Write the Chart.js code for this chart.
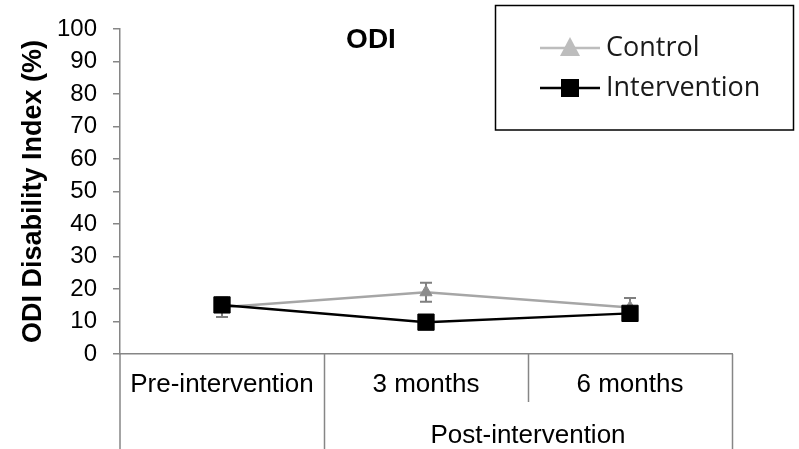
<!DOCTYPE html>
<html>
<head>
<meta charset="utf-8">
<title>ODI</title>
<script src="https://cdn.jsdelivr.net/npm/chart.js@4/dist/chart.umd.min.js"></script>
<style>
  html, body { margin: 0; padding: 0; background: #ffffff; }
  #wrap { width: 799px; height: 449px; }
</style>
</head>
<body>
<div id="wrap"><canvas id="odi" width="799" height="449"></canvas></div>
<script>
// Time points and the group label spanning the follow-up visits
const categories = ['Pre-intervention', '3 months', '6 months'];
const groupLabel = 'Post-intervention';
const groupStart = 1;   // first category under the group label
const groupEnd = 2;     // last category under the group label

// Mean ODI (%) and standard error per time point
const controlValues = [14.4, 19.0, 14.3];
const controlErrors = [3.0, 2.9, 2.9];
const interventionValues = [15.1, 9.8, 12.5];
const interventionErrors = [2.0, 1.5, 1.5];

// Y axis ticks
const yTicks = [0, 10, 20, 30, 40, 50, 60, 70, 80, 90, 100];

const AXIS_GREY = '#868686';
const FONT = '"Liberation Sans", Arial, sans-serif';

// Error bars, drawn under the markers
const errorBars = {
  id: 'errorBars',
  beforeDatasetsDraw(chart) {
    const ctx = chart.ctx;
    const y = chart.scales.y;
    chart.data.datasets.forEach((ds, i) => {
      const meta = chart.getDatasetMeta(i);
      if (meta.hidden) return;
      ctx.save();
      ctx.strokeStyle = ds.errorColor;
      ctx.lineWidth = 2;
      meta.data.forEach((pt, j) => {
        const v = ds.data[j], e = ds.errors[j];
        const yTop = y.getPixelForValue(v + e);
        const yBot = y.getPixelForValue(v - e);
        const x = pt.x;
        ctx.beginPath();
        ctx.moveTo(x, yTop); ctx.lineTo(x, yBot);
        ctx.moveTo(x - 6, yTop); ctx.lineTo(x + 6, yTop);
        ctx.moveTo(x - 6, yBot); ctx.lineTo(x + 6, yBot);
        ctx.stroke();
      });
      ctx.restore();
    });
  }
};

// Category dividers below the axis, group label, title and legend box
const decorations = {
  id: 'decorations',
  afterDraw(chart) {
    const ctx = chart.ctx;
    const x = chart.scales.x;
    const area = chart.chartArea;
    const H = chart.height;
    const n = categories.length;
    const edge = (k) => {
      if (k <= 0) return x.left;
      if (k >= n) return x.right;
      return (x.getPixelForValue(k - 1) + x.getPixelForValue(k)) / 2;
    };

    ctx.save();
    ctx.strokeStyle = AXIS_GREY;
    ctx.lineWidth = 1.5;
    // left axis runs to the bottom of the canvas
    ctx.beginPath();
    ctx.moveTo(x.left, area.bottom); ctx.lineTo(x.left, H);
    for (let k = 1; k <= n; k++) {
      const px = Math.round(edge(k)) + 0.5;
      const inside = k > groupStart && k <= groupEnd;
      ctx.moveTo(px, area.bottom);
      ctx.lineTo(px, inside ? area.bottom + 48 : H);
    }
    ctx.stroke();

    // group label
    ctx.fillStyle = '#000000';
    ctx.font = '26px ' + FONT;
    ctx.textAlign = 'center';
    ctx.textBaseline = 'middle';
    ctx.fillText(groupLabel, (edge(groupStart) + edge(groupEnd + 1)) / 2, 436);

    // chart title
    ctx.font = 'bold 28px ' + FONT;
    ctx.fillText('ODI', 371, 40);

    // legend
    ctx.strokeStyle = '#000000';
    ctx.lineWidth = 1.5;
    ctx.strokeRect(495.5, 5.5, 298, 124.5);

    const rows = [
      { ds: chart.data.datasets[0], y: 48 },
      { ds: chart.data.datasets[1], y: 88 }
    ];
    rows.forEach(r => {
      ctx.strokeStyle = r.ds.legendColor;
      ctx.fillStyle = r.ds.legendColor;
      ctx.lineWidth = 2.5;
      ctx.beginPath();
      ctx.moveTo(540, r.y); ctx.lineTo(600, r.y);
      ctx.stroke();
      ctx.beginPath();
      if (r.ds.pointStyle === 'triangle') {
        ctx.moveTo(570, r.y - 11);
        ctx.lineTo(580, r.y + 8);
        ctx.lineTo(560, r.y + 8);
        ctx.closePath();
      } else {
        ctx.rect(561, r.y - 9, 18, 18);
      }
      ctx.fill();
      ctx.fillStyle = '#1a1a1a';
      ctx.font = '27px "Open Sans", sans-serif';
      ctx.textAlign = 'left';
      ctx.textBaseline = 'middle';
      ctx.fillText(r.ds.label, 606, r.y);
    });
    ctx.restore();
  }
};

new Chart(document.getElementById('odi'), {
  type: 'line',
  data: {
    labels: categories,
    datasets: [
      {
        label: 'Control',
        data: controlValues,
        errors: controlErrors,
        borderColor: '#a6a6a6',
        backgroundColor: '#8c8c8c',
        pointBackgroundColor: '#8c8c8c',
        pointBorderColor: '#8c8c8c',
        errorColor: '#7f7f7f',
        legendColor: '#bdbdbd',
        borderWidth: 2.5,
        pointStyle: 'triangle',
        pointRadius: 7,
        pointBorderWidth: 1,
        tension: 0,
        order: 1
      },
      {
        label: 'Intervention',
        data: interventionValues,
        errors: interventionErrors,
        borderColor: '#000000',
        backgroundColor: '#000000',
        pointBackgroundColor: '#000000',
        pointBorderColor: '#000000',
        errorColor: '#000000',
        legendColor: '#000000',
        borderWidth: 2.5,
        pointStyle: 'rect',
        pointRadius: 11.5,
        pointBorderWidth: 1,
        tension: 0,
        order: 0
      }
    ]
  },
  options: {
    responsive: false,
    animation: false,
    devicePixelRatio: 1,
    layout: { padding: { left: 0, right: 67, top: 29, bottom: 0 } },
    plugins: {
      legend: { display: false },
      title: { display: false },
      tooltip: { enabled: false }
    },
    scales: {
      x: {
        type: 'category',
        offset: true,
        grid: { display: false, drawTicks: false },
        border: { display: true, color: AXIS_GREY, width: 1.5 },
        ticks: {
          color: '#000000',
          font: { family: FONT, size: 26 },
          padding: 15,
          maxRotation: 0,
          autoSkip: false
        },
        afterFit(scale) { scale.height = 95; }
      },
      y: {
        min: 0,
        max: 100,
        afterBuildTicks(scale) { scale.ticks = yTicks.map(v => ({ value: v })); },
        grid: {
          display: true,
          drawOnChartArea: false,
          drawTicks: true,
          tickLength: 7,
          color: AXIS_GREY,
          lineWidth: 1.5
        },
        border: { display: true, color: AXIS_GREY, width: 1.5 },
        ticks: {
          color: '#000000',
          font: { family: FONT, size: 24, lineHeight: 1 },
          padding: 16,
          autoSkip: false
        },
        title: {
          display: true,
          text: 'ODI Disability Index (%)',
          color: '#000000',
          font: { family: FONT, size: 27, weight: 'bold' },
          padding: { top: 17, bottom: 0 }
        },
        afterFit(scale) { scale.width = 120; }
      }
    }
  },
  plugins: [errorBars, decorations]
});
</script>
</body>
</html>
